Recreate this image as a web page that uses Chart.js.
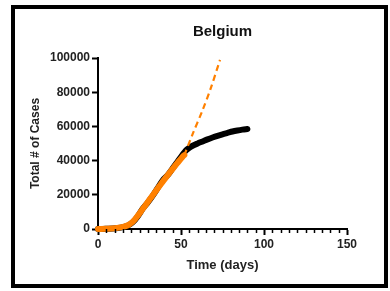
<!DOCTYPE html>
<html>
<head>
<meta charset="utf-8">
<script src="https://cdn.jsdelivr.net/npm/chart.js@4"></script>
<style>
html,body{margin:0;padding:0;background:#fff;}
#wrap{position:relative;width:390px;height:291px;}
#frame{position:absolute;left:11px;top:5px;width:377px;height:283px;border:4px solid #000;box-sizing:border-box;pointer-events:none;}
canvas{position:absolute;left:0;top:0;}
</style>
</head>
<body>
<div id="wrap">
<canvas id="c" width="390" height="291"></canvas>
<div id="frame"></div>
</div>
<script>
// Observed data (black)
const obsDays   = [0, 3, 6, 9, 12, 15, 18, 21, 24, 27, 30, 33, 36, 39, 42, 45, 48, 51, 53, 55, 57, 60, 63, 66, 69, 72, 75, 78, 81, 84, 87, 90];
const obsCases  = [0, 50, 150, 300, 600, 1100, 2000, 4000, 7500, 12000, 15500, 19500, 24000, 28500, 31500, 35500, 39500, 43500, 46000, 47500, 48700, 50000, 51200, 52400, 53500, 54500, 55400, 56200, 57000, 57600, 58100, 58500];
// Fitted curve (orange solid)
const fitDays   = [0, 5, 10, 15, 18, 21, 24, 27, 30, 33, 36, 39, 42, 45, 48, 51, 52];
const fitCases  = [0, 100, 400, 1200, 2200, 4300, 7800, 11800, 15800, 19800, 23800, 27700, 31500, 35200, 38800, 42300, 43200];
// Extrapolation (orange dashed)
const extDays   = [52, 57, 63, 68, 73.5];
const extCases  = [43200, 55500, 69500, 82500, 98900];
// Tick labels
const xTicks = [0, 50, 100, 150];
const yTicks = [0, 20000, 40000, 60000, 80000, 100000];

const toXY = (xs, ys) => xs.map((x, i) => ({x: x, y: ys[i]}));
const ORANGE = 'rgb(255,128,0)';
const FONT = "'Liberation Sans', Arial, sans-serif";

const minorTicks = {
  id: 'minorTicks',
  afterDraw(chart) {
    const xs = chart.scales.x, ctx = chart.ctx;
    const y0 = xs.top;
    ctx.save();
    ctx.strokeStyle = '#000';
    ctx.lineWidth = 1.5;
    for (let v = 5; v < 150; v += 5) {
      if (v % 50 === 0) continue;
      const px = Math.round(xs.getPixelForValue(v)) + 0.5;
      ctx.beginPath();
      ctx.moveTo(px, y0);
      ctx.lineTo(px, y0 + 4);
      ctx.stroke();
    }
    ctx.restore();
  }
};

new Chart(document.getElementById('c'), {
  type: 'line',
  data: {
    datasets: [
      {
        label: 'fit',
        data: toXY(fitDays, fitCases),
        borderColor: ORANGE,
        borderWidth: 6,
        borderCapStyle: 'round',
        borderJoinStyle: 'round',
        pointRadius: 0,
        tension: 0.3,
        clip: false,
        order: 0
      },
      {
        label: 'extrapolation',
        data: toXY(extDays, extCases),
        borderColor: ORANGE,
        borderWidth: 2.2,
        borderDash: [6, 4],
        pointRadius: 0,
        tension: 0.3,
        clip: false,
        order: 0
      },
      {
        label: 'observed',
        data: toXY(obsDays, obsCases),
        borderColor: '#000',
        borderWidth: 6,
        borderCapStyle: 'round',
        borderJoinStyle: 'round',
        pointRadius: 0,
        tension: 0.3,
        clip: false,
        order: 1
      }
    ]
  },
  options: {
    responsive: false,
    animation: false,
    events: [],
    layout: { padding: { left: 0, right: 43, top: 0, bottom: 0 } },
    plugins: {
      legend: { display: false },
      tooltip: { enabled: false },
      title: {
        display: true,
        fullSize: false,
        text: 'Belgium',
        color: '#111',
        font: { family: FONT, size: 15, weight: 'bold', lineHeight: 1.2 },
        padding: { top: 23, bottom: 17 }
      }
    },
    scales: {
      x: {
        type: 'linear',
        min: 0, max: 150,
        afterBuildTicks: (s) => { s.ticks = xTicks.map(v => ({value: v})); },
        afterFit: (s) => { s.height = 62; },
        border: { display: true, color: '#000', width: 2 },
        grid: { display: true, drawOnChartArea: false, drawTicks: true, tickLength: 6, tickColor: '#000', tickWidth: 2, color: '#000' },
        ticks: { color: '#222', padding: 2, font: { family: FONT, size: 12, weight: 'bold' }, maxRotation: 0, callback: v => String(v) },
        title: { display: true, text: 'Time (days)', color: '#222', font: { family: FONT, size: 13, weight: 'bold' }, padding: { top: 4, bottom: 18 } }
      },
      y: {
        type: 'linear',
        min: 0, max: 100000,
        afterBuildTicks: (s) => { s.ticks = yTicks.map(v => ({value: v})); },
        afterFit: (s) => { s.width = 98; },
        border: { display: true, color: '#000', width: 2 },
        grid: { display: true, drawOnChartArea: false, drawTicks: true, tickLength: 6, tickColor: '#000', tickWidth: 2, color: '#000' },
        ticks: { color: '#222', padding: 2, font: { family: FONT, size: 12, weight: 'bold' }, callback: v => String(v) },
        title: { display: true, text: 'Total # of Cases', color: '#222', font: { family: FONT, size: 12, weight: 'bold' }, padding: { top: 28, bottom: 4 } }
      }
    }
  },
  plugins: [minorTicks]
});
</script>
</body>
</html>
